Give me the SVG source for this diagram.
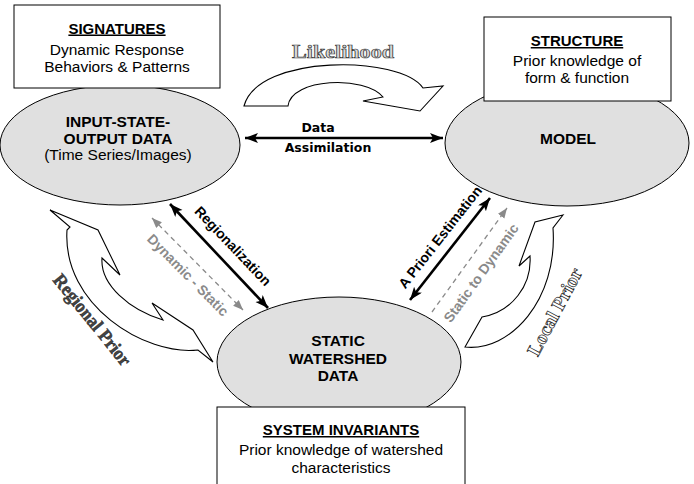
<svg xmlns="http://www.w3.org/2000/svg" width="694" height="484" viewBox="0 0 694 484">
<style>
.ell{fill:#e0e0e0;stroke:#000;stroke-width:1}
.box{fill:#fff;stroke:#000;stroke-width:1}
.t{font-family:"Liberation Sans",Arial,sans-serif;font-size:15.5px;fill:#000;text-anchor:middle}
.b{font-weight:bold}
.u{text-decoration:underline}
.da{font-family:"DejaVu Sans",sans-serif;font-weight:bold;font-size:12.5px;text-anchor:middle;fill:#000}
.lab{font-family:"Liberation Sans",Arial,sans-serif;font-weight:bold;font-size:14px;text-anchor:middle}
.blk{stroke:#000;stroke-width:2.6;fill:none}
.gry{stroke:#8a8a8a;stroke-width:1.3;fill:none;stroke-dasharray:5,4}
.curv{fill:#fff;stroke:#000;stroke-width:1.1;stroke-linejoin:miter}
.ser{font-family:"Liberation Serif","Times New Roman",serif;font-weight:bold;font-size:19px;text-anchor:middle}
</style>
<defs>
<marker id="ab" markerUnits="userSpaceOnUse" markerWidth="14" markerHeight="12" refX="13" refY="5" orient="auto-start-reverse">
<path d="M0,0 L13,5 L0,10 L3,5 z" fill="#000"/>
</marker>
<marker id="ag" markerUnits="userSpaceOnUse" markerWidth="11" markerHeight="10" refX="10" refY="4" orient="auto-start-reverse">
<path d="M0,0 L10,4 L0,8 z" fill="#8a8a8a"/>
</marker>
</defs>
<rect width="694" height="484" fill="#fff"/>

<g id="curved-arrows">
<path id="likelihood-arrow" class="curv" d="M244,106 C258,54 400,55 423,88 L443,86 L420,111 L363,101 L383,97 C365,75 291,78 288,106 Z"/>
<path id="regional-prior-arrow" class="curv" d="M50,210 L98,230 L120,275 L102,258 C100,285 130,310 163,320 L152,303 L193,330 L213,362 L198,350 C145,356 62,305 67,230 L70,227 Z"/>
<path id="local-prior-arrow" class="curv" d="M563,215 L535,222 L519,266 L530,256 C532,285 512,312 482,317 L465,347 C510,352 558,300 553,228 Z"/>
</g>

<g id="node-input">
<ellipse class="ell" cx="120" cy="145" rx="120" ry="60"/>
<text class="t b" x="118" y="126.5">INPUT-STATE-</text>
<text class="t b" x="118" y="143.5">OUTPUT DATA</text>
<text class="t" x="118" y="160">(Time Series/Images)</text>
</g>

<g id="node-model">
<ellipse class="ell" cx="567" cy="143" rx="122" ry="63"/>
<text class="t b" x="568" y="143.5">MODEL</text>
</g>

<g id="node-static">
<ellipse class="ell" cx="339" cy="362" rx="122" ry="65"/>
<text class="t b" x="338" y="345.5">STATIC</text>
<text class="t b" x="338" y="363.5">WATERSHED</text>
<text class="t b" x="338" y="380.5">DATA</text>
</g>

<g id="node-signatures">
<rect class="box" x="14" y="5" width="206" height="83"/>
<text class="t b u" x="117" y="33.5" style="font-size:15px">SIGNATURES</text>
<text class="t" x="117" y="55">Dynamic Response</text>
<text class="t" x="117" y="72">Behaviors &amp; Patterns</text>
</g>

<g id="node-structure">
<rect class="box" x="484" y="17" width="187" height="84"/>
<text class="t b u" x="577" y="46" style="font-size:15px">STRUCTURE</text>
<text class="t" x="577" y="66">Prior knowledge of</text>
<text class="t" x="577" y="83">form &amp; function</text>
</g>

<g id="node-invariants">
<rect class="box" x="217" y="407" width="248" height="82"/>
<text class="t b u" x="341" y="435" style="font-size:15px">SYSTEM INVARIANTS</text>
<text class="t" x="341" y="455">Prior knowledge of watershed</text>
<text class="t" x="341" y="472.5">characteristics</text>
</g>

<g id="connectors">
<line class="blk" x1="245" y1="138" x2="443" y2="138" marker-start="url(#ab)" marker-end="url(#ab)"/>
<line class="blk" x1="170" y1="204" x2="268" y2="308" marker-start="url(#ab)" marker-end="url(#ab)"/>
<line class="blk" x1="410" y1="300" x2="490" y2="198" marker-start="url(#ab)" marker-end="url(#ab)"/>
<line class="gry" x1="152" y1="218" x2="243" y2="310" marker-start="url(#ag)" marker-end="url(#ag)"/>
<line class="gry" x1="432" y1="312" x2="507" y2="208" marker-end="url(#ag)"/>
</g>

<g id="labels">
<text class="ser" x="343" y="58" textLength="102" lengthAdjust="spacingAndGlyphs" style="fill:#d8d8d8;stroke:#333;stroke-width:0.7">Likelihood</text>
<text class="da" x="318" y="131.5">Data</text>
<text class="da" x="328" y="151.5">Assimilation</text>
<text class="lab" transform="translate(233,246) rotate(46.4)" y="5">Regionalization</text>
<text class="lab" transform="translate(188,275) rotate(45.3)" y="5" fill="#8a8a8a">Dynamic - Static</text>
<text class="lab" transform="translate(440,237) rotate(-51.9)" y="5">A Priori Estimation</text>
<text class="lab" transform="translate(481,273) rotate(-54.2)" y="5" fill="#8a8a8a">Static to Dynamic</text>
<text class="ser" transform="translate(92,320) rotate(51)" y="6" textLength="112" lengthAdjust="spacingAndGlyphs" style="fill:#444;stroke:#111;stroke-width:0.4">Regional Prior</text>
<text class="ser" transform="translate(555,312) rotate(-62)" y="6" textLength="96" lengthAdjust="spacingAndGlyphs" style="fill:#fff;stroke:#222;stroke-width:0.7">Local Prior</text>
</g>
</svg>
